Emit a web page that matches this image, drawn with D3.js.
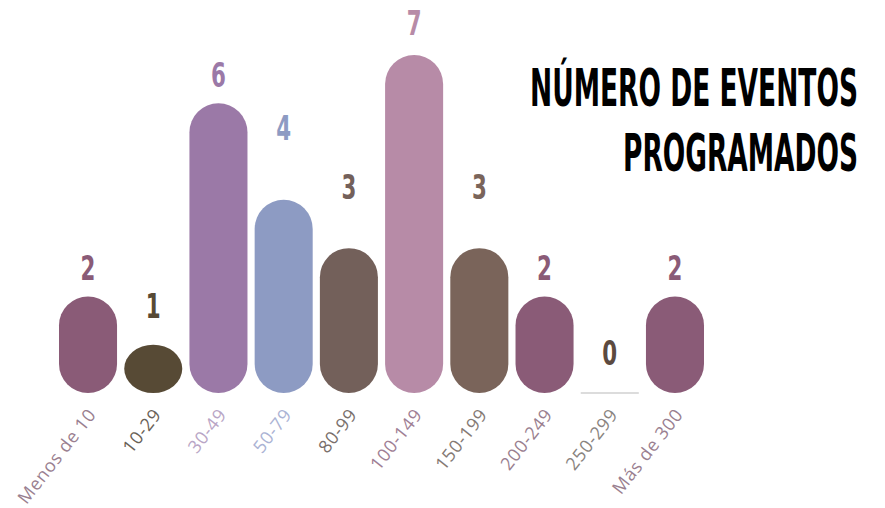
<!DOCTYPE html>
<html>
<head>
<meta charset="utf-8">
<script src="https://cdn.jsdelivr.net/npm/d3@7"></script>
<style>
  body { margin: 0; background: #fff; }
  svg { display: block; }
</style>
</head>
<body>
<div id="chart"></div>
<script>
let w = 885;
let h = 508;

// data
const categories = ["Menos de 10", "10-29", "30-49", "50-79", "80-99", "100-149", "150-199", "200-249", "250-299", "Más de 300"];
const eventos = [2, 1, 6, 4, 3, 7, 3, 2, 0, 2];
const titleLines = ["NÚMERO DE EVENTOS", "PROGRAMADOS"];

// one colour per bar, plus the softer tint used for its axis label
const barColors = ["#8a5b77", "#574a35", "#9b79a7", "#8d9bc3", "#73605a", "#b78ba7", "#7a645a", "#8a5b77", "#5c4a40", "#8a5b77"];
const tickColors = ["#9a7f90", "#6a6258", "#b9a6c6", "#abb3d4", "#7a706c", "#a07f95", "#857a74", "#9a7f90", "#8a8480", "#9a7f90"];
// how far each number floats above its bar (px)
const labelGap = [16, 27, 16, 60, 49, 20, 49, 16, 28, 16];

const condensed = "'Liberation Sans Narrow', 'DejaVu Sans Condensed', 'Arial Narrow', sans-serif";

let svg = d3.select("#chart")
            .append("svg")
            .attr("width", w)
            .attr("height", h);

let xScale = d3.scaleBand(categories, [59, 704]).paddingInner(0.11).paddingOuter(0);
let yScale = d3.scaleLinear([0, 7], [393, 55]);

let rows = categories.map((c, i) => ({ cat: c, value: eventos[i], i: i }));

// capsule bars
svg.selectAll("rect.bar")
   .data(rows.filter(d => d.value > 0))
   .enter()
   .append("rect")
   .attr("class", "bar")
   .attr("x", d => xScale(d.cat))
   .attr("y", d => yScale(d.value))
   .attr("width", xScale.bandwidth())
   .attr("height", d => yScale(0) - yScale(d.value))
   .attr("rx", xScale.bandwidth() / 2)
   .attr("ry", xScale.bandwidth() / 2)
   .attr("fill", d => barColors[d.i]);

// empty category gets a thin baseline
svg.selectAll("line.zero")
   .data(rows.filter(d => d.value === 0))
   .enter()
   .append("line")
   .attr("class", "zero")
   .attr("x1", d => xScale(d.cat))
   .attr("x2", d => xScale(d.cat) + xScale.bandwidth())
   .attr("y1", yScale(0))
   .attr("y2", yScale(0))
   .attr("stroke", "#dcdcdc")
   .attr("stroke-width", 2);

// value labels, squeezed horizontally for a tall condensed look
svg.selectAll("text.value")
   .data(rows)
   .enter()
   .append("text")
   .attr("class", "value")
   .attr("transform", d => `translate(${xScale(d.cat) + xScale.bandwidth() / 2},${yScale(d.value) - labelGap[d.i]}) scale(0.72,1)`)
   .attr("text-anchor", "middle")
   .style("font-family", condensed)
   .style("font-weight", "bold")
   .style("font-size", "33px")
   .attr("fill", d => barColors[d.i])
   .text(d => d.value);

// x axis: rotated category names, no line or ticks
let xAxis = d3.axisBottom(xScale).tickSize(0).tickPadding(0);
let gx = svg.append("g")
            .attr("transform", `translate(0,${yScale(0)})`)
            .call(xAxis);
gx.select(".domain").remove();
gx.selectAll(".tick text")
  .attr("y", 0)
  .attr("dy", 0)
  .attr("transform", "translate(9,22) rotate(-52)")
  .attr("text-anchor", "end")
  .style("font-family", "'Open Sans', sans-serif")
  .style("font-size", "18px")
  .style("letter-spacing", "0.6px")
  .attr("fill", (d, i) => tickColors[i]);

// title, right aligned at x = 858, each line squeezed to its width
const titleWidths = [328, 235];
const titleBase = [106, 171];
let title = svg.append("g")
               .style("font-family", condensed)
               .style("font-weight", "bold")
               .style("font-size", "52px")
               .attr("fill", "#000");
titleLines.forEach((line, i) => {
  let t = title.append("text")
               .attr("text-anchor", "end")
               .text(line);
  let natural = t.node().getComputedTextLength();
  t.attr("transform", `translate(858,${titleBase[i]}) scale(${titleWidths[i] / natural},1)`);
});
</script>
</body>
</html>
